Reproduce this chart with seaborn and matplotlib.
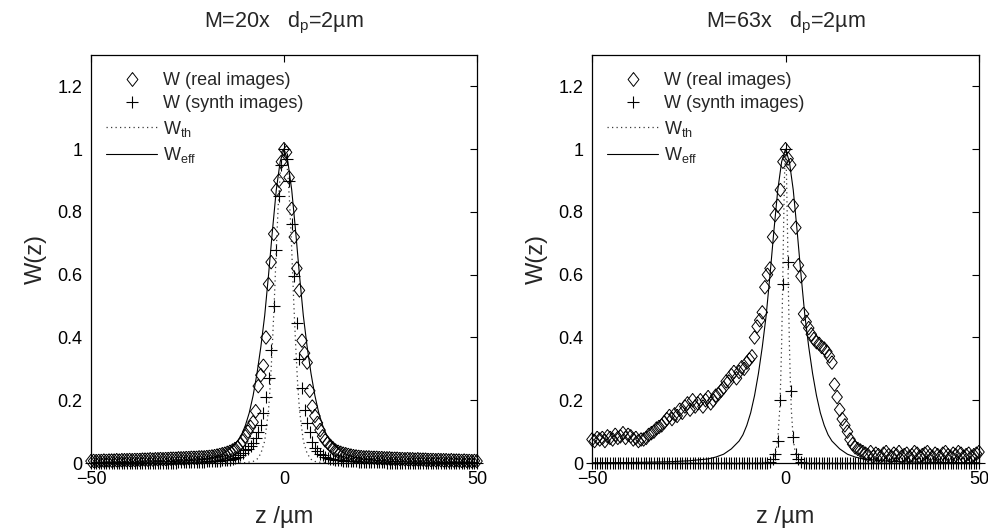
import numpy as np
import pandas as pd
import matplotlib
matplotlib.use("Agg")
import matplotlib.pyplot as plt
import seaborn as sns
from matplotlib.lines import Line2D

# ---------------- data ----------------
# sampling positions of the measured profiles (z in µm)
z_grid = np.round(np.arange(-75, 76) * 2.0 / 3.0, 4)

# M = 20x : W (real images)
L_real = [
    0.006, 0.007, 0.006, 0.007, 0.007, 0.008, 0.007, 0.008, 0.008, 0.008,
    0.009, 0.008, 0.009, 0.009, 0.009, 0.010, 0.009, 0.010, 0.010, 0.010,
    0.011, 0.011, 0.011, 0.012, 0.011, 0.012, 0.012, 0.013, 0.012, 0.013,
    0.013, 0.014, 0.014, 0.014, 0.015, 0.015, 0.015, 0.016, 0.016, 0.017,
    0.017, 0.017, 0.018, 0.018, 0.018,
    0.019, 0.020, 0.021, 0.022, 0.024, 0.026, 0.028, 0.030, 0.033, 0.036,
    0.040, 0.045, 0.050, 0.060, 0.070, 0.085, 0.100, 0.115, 0.130, 0.165,
    0.245, 0.280, 0.310, 0.400, 0.570, 0.640, 0.730, 0.870, 0.900, 0.960,
    1.000,
    0.990, 0.910, 0.810, 0.720, 0.620, 0.550, 0.390, 0.350, 0.320, 0.230,
    0.180, 0.150, 0.128, 0.105, 0.085, 0.072, 0.064, 0.055, 0.047, 0.040,
    0.036, 0.033, 0.030, 0.028, 0.026, 0.024, 0.022, 0.021, 0.020, 0.019,
    0.018, 0.018, 0.018, 0.017, 0.017, 0.017, 0.016, 0.016, 0.015, 0.015,
    0.015, 0.014, 0.014, 0.014, 0.013, 0.013, 0.012, 0.013, 0.012, 0.012,
    0.011, 0.012, 0.011, 0.011, 0.011, 0.010, 0.010, 0.010, 0.009, 0.010,
    0.009, 0.009, 0.009, 0.008, 0.009, 0.008, 0.008, 0.008, 0.007, 0.008,
    0.007, 0.007, 0.006, 0.007, 0.006,
]

# M = 20x : W (synth images)
L_synth = [
    0.0, 0.0, 0.0, 0.0, 0.0, 0.0, 0.0, 0.0, 0.0, 0.0,
    0.0, 0.0, 0.0, 0.0, 0.0, 0.0, 0.0, 0.0, 0.0, 0.0,
    0.0, 0.0, 0.0, 0.0, 0.0, 0.0, 0.0, 0.0, 0.0, 0.0,
    0.001, 0.001, 0.001, 0.001, 0.002, 0.002, 0.002, 0.002, 0.003, 0.003,
    0.003, 0.003, 0.004, 0.004, 0.004, 0.005, 0.005, 0.005, 0.006, 0.006,
    0.007, 0.008, 0.009, 0.010, 0.011, 0.013, 0.016, 0.020, 0.025, 0.032,
    0.040, 0.045, 0.055, 0.065, 0.080, 0.100, 0.120, 0.160, 0.210, 0.270,
    0.360, 0.500, 0.680, 0.850, 0.950,
    1.000,
    0.970, 0.900, 0.760, 0.595, 0.446, 0.330, 0.240, 0.170, 0.127, 0.100,
    0.068, 0.047, 0.038, 0.030, 0.025, 0.020, 0.017, 0.014, 0.012, 0.010,
    0.009, 0.008, 0.007, 0.006, 0.006,
    0.005, 0.005, 0.005, 0.004, 0.004, 0.004, 0.003, 0.003, 0.003, 0.003,
    0.002, 0.002, 0.002, 0.002, 0.001, 0.001, 0.001, 0.001, 0.001, 0.001,
    0.0, 0.0, 0.0, 0.0, 0.0, 0.0, 0.0, 0.0, 0.0, 0.0,
    0.0, 0.0, 0.0, 0.0, 0.0, 0.0, 0.0, 0.0, 0.0, 0.0,
    0.0, 0.0, 0.0, 0.0, 0.0, 0.0, 0.0, 0.0, 0.0, 0.0,
]

# M = 20x : theoretical and effective curves
L_th_z = [-50, -20, -10, -8, -7, -6, -5, -4, -3.5, -3, -2.5, -2, -1.5, -1, -0.5, 0,
          0.5, 1, 1.5, 2, 2.5, 3, 3.5, 4, 5, 6, 7, 8, 10, 20, 50]
L_th_w = [0.0, 0.0, 0.001, 0.005, 0.012, 0.03, 0.07, 0.17, 0.26, 0.38, 0.52, 0.68, 0.82, 0.92, 0.98, 1.0,
          0.98, 0.92, 0.82, 0.68, 0.52, 0.38, 0.26, 0.17, 0.07, 0.03, 0.012, 0.005, 0.001, 0.0, 0.0]
L_eff_z = [-50, -40, -30, -25, -20, -18, -16, -14, -12, -11, -10, -9, -8, -7, -6, -5, -4, -3, -2, -1, 0,
           1, 2, 3, 4, 5, 6, 7, 8, 9, 10, 11, 12, 14, 16, 18, 20, 25, 30, 40, 50]
L_eff_w = [0.001, 0.002, 0.004, 0.007, 0.013, 0.019, 0.028, 0.045, 0.07, 0.09, 0.12, 0.16, 0.215, 0.285,
           0.37, 0.47, 0.60, 0.74, 0.87, 0.96, 1.0,
           0.96, 0.87, 0.74, 0.60, 0.47, 0.37, 0.285, 0.215, 0.16, 0.12, 0.09, 0.07, 0.045, 0.028,
           0.019, 0.013, 0.007, 0.004, 0.002, 0.001]

# M = 63x : W (real images)
R_real = [
    0.075, 0.070, 0.080, 0.075, 0.080, 0.070, 0.085, 0.080, 0.075, 0.090,
    0.080, 0.085, 0.095, 0.080, 0.090, 0.085, 0.075, 0.080, 0.070, 0.075,
    0.075, 0.080, 0.090, 0.095, 0.100, 0.110, 0.115, 0.120, 0.130, 0.140,
    0.150, 0.140, 0.155, 0.150, 0.170, 0.160, 0.180, 0.190, 0.170, 0.200,
    0.180, 0.190, 0.200, 0.180, 0.200, 0.210, 0.190, 0.200, 0.215, 0.220,
    0.230, 0.240, 0.260, 0.260, 0.280, 0.290, 0.270, 0.290, 0.305, 0.300,
    0.320, 0.330, 0.340, 0.400, 0.435, 0.455, 0.480, 0.560, 0.600, 0.620,
    0.720, 0.790, 0.820, 0.870, 0.960,
    1.000,
    0.970, 0.950, 0.820, 0.750, 0.630, 0.595, 0.475, 0.450, 0.430, 0.410,
    0.395, 0.385, 0.380, 0.370, 0.365, 0.355, 0.340, 0.320, 0.250, 0.210,
    0.170, 0.140, 0.120, 0.100, 0.075, 0.060, 0.050, 0.045, 0.040, 0.035,
    0.030, 0.025, 0.035, 0.020, 0.030, 0.025, 0.020, 0.030, 0.035, 0.025,
    0.020, 0.030, 0.025, 0.035, 0.020, 0.025, 0.030, 0.020, 0.025, 0.035,
    0.030, 0.020, 0.025, 0.030, 0.035, 0.025, 0.020, 0.030, 0.025, 0.020,
    0.030, 0.035, 0.025, 0.020, 0.030, 0.025, 0.035, 0.030, 0.020, 0.025,
    0.030, 0.020, 0.025, 0.030, 0.035,
]

# M = 63x : W (synth images)
R_synth = [
    0.0, 0.0, 0.0, 0.0, 0.0, 0.0, 0.0, 0.0, 0.0, 0.0,
    0.0, 0.0, 0.0, 0.0, 0.0, 0.0, 0.0, 0.0, 0.0, 0.0,
    0.0, 0.0, 0.0, 0.0, 0.0, 0.0, 0.0, 0.0, 0.0, 0.0,
    0.0, 0.0, 0.0, 0.0, 0.0, 0.0, 0.0, 0.0, 0.0, 0.0,
    0.0, 0.0, 0.0, 0.0, 0.0, 0.0, 0.0, 0.0, 0.0, 0.0,
    0.0, 0.0, 0.0, 0.0, 0.0, 0.0, 0.0, 0.0, 0.0, 0.0,
    0.0, 0.0, 0.0, 0.0, 0.0, 0.0, 0.0, 0.0, 0.0,
    0.004, 0.012, 0.030, 0.070, 0.200, 0.570,
    1.000,
    0.640, 0.230, 0.083, 0.030, 0.012, 0.004,
    0.0, 0.0, 0.0, 0.0, 0.0, 0.0, 0.0, 0.0, 0.0,
    0.0, 0.0, 0.0, 0.0, 0.0, 0.0, 0.0, 0.0, 0.0, 0.0,
    0.0, 0.0, 0.0, 0.0, 0.0, 0.0, 0.0, 0.0, 0.0, 0.0,
    0.0, 0.0, 0.0, 0.0, 0.0, 0.0, 0.0, 0.0, 0.0, 0.0,
    0.0, 0.0, 0.0, 0.0, 0.0, 0.0, 0.0, 0.0, 0.0, 0.0,
    0.0, 0.0, 0.0, 0.0, 0.0, 0.0, 0.0, 0.0, 0.0, 0.0,
    0.0, 0.0, 0.0, 0.0, 0.0, 0.0, 0.0, 0.0, 0.0, 0.0,
]

# M = 63x : theoretical and effective curves
R_th_z = [-50, -10, -5, -4, -3, -2.5, -2, -1.5, -1.25, -1, -0.75, -0.5, -0.25, 0,
          0.25, 0.5, 0.75, 1, 1.25, 1.5, 2, 2.5, 3, 4, 5, 10, 50]
R_th_w = [0.0, 0.0, 0.002, 0.006, 0.018, 0.035, 0.075, 0.17, 0.26, 0.38, 0.55, 0.75, 0.92, 1.0,
          0.92, 0.75, 0.55, 0.38, 0.26, 0.17, 0.075, 0.035, 0.018, 0.006, 0.002, 0.0, 0.0]
R_eff_z = [-50, -40, -30, -25, -20, -18, -16, -14, -12, -11, -10, -9, -8, -7, -6, -5, -4, -3, -2, -1, 0,
           1, 2, 3, 4, 5, 6, 7, 8, 9, 10, 11, 12, 14, 16, 18, 20, 25, 30, 40, 50]
R_eff_w = [0.0007, 0.0015, 0.004, 0.007, 0.013, 0.019, 0.028, 0.045, 0.07, 0.09, 0.12, 0.16, 0.215, 0.285,
           0.37, 0.47, 0.60, 0.74, 0.87, 0.96, 1.0,
           0.96, 0.87, 0.74, 0.60, 0.47, 0.37, 0.285, 0.215, 0.16, 0.12, 0.09, 0.07, 0.045, 0.028,
           0.019, 0.013, 0.007, 0.004, 0.0015, 0.0007]

titles = ["M=20x   d$_\\mathregular{p}$=2µm", "M=63x   d$_\\mathregular{p}$=2µm"]
legend_labels = ["W (real images)", "W (synth images)",
                 "W$_\\mathregular{th}$", "W$_\\mathregular{eff}$"]
y_ticks = [0, 0.2, 0.4, 0.6, 0.8, 1.0, 1.2]
y_ticklabels = ["0", "0.2", "0.4", "0.6", "0.8", "1", "1.2"]
x_ticks = [-50, 0, 50]

# ---------------- style ----------------
sns.set_theme(style="white")
plt.rcParams['font.family'] = ['Liberation Sans', 'DejaVu Sans']
plt.rcParams['mathtext.default'] = 'regular'
plt.rcParams['axes.edgecolor'] = 'black'
plt.rcParams['axes.linewidth'] = 0.9

diamond = [(0, 1), (0.78, 0), (0, -1), (-0.78, 0), (0, 1)]
TH_STYLE = (0, (1, 2.6))

fig = plt.figure(figsize=(9.88, 5.28), dpi=100)
ax_pos = [[0.0921, 0.1231, 0.3907, 0.7727], [0.5992, 0.1231, 0.3917, 0.7727]]

panels = [
    (L_real, L_synth, L_th_z, L_th_w, L_eff_z, L_eff_w),
    (R_real, R_synth, R_th_z, R_th_w, R_eff_z, R_eff_w),
]

for i, (real, synth, thz, thw, effz, effw) in enumerate(panels):
    ax = fig.add_axes(ax_pos[i])
    df = pd.DataFrame({"z": z_grid, "real": real, "synth": synth})

    sns.scatterplot(data=df, x="z", y="real", marker=diamond, s=95, ax=ax,
                    linewidth=0.7, clip_on=False, zorder=3, legend=False)
    coll = ax.collections[-1]
    coll.set_facecolor('none')
    coll.set_edgecolor('black')

    sns.scatterplot(data=df, x="z", y="synth", marker='+', s=85, color='black', ax=ax,
                    linewidth=0.8, clip_on=False, zorder=3, legend=False)

    sns.lineplot(x=thz, y=thw, ax=ax, color='#3a3a3a', linewidth=0.9,
                 linestyle=TH_STYLE, sort=False, estimator=None, zorder=4)
    sns.lineplot(x=effz, y=effw, ax=ax, color='black', linewidth=0.8,
                 sort=False, estimator=None, zorder=4)

    ax.set_xlim(-50, 50)
    ax.set_ylim(0, 1.3)
    ax.set_xticks(x_ticks)
    ax.set_yticks(y_ticks)
    ax.set_yticklabels(y_ticklabels)
    ax.tick_params(direction='in', top=True, right=True, length=5, width=0.8,
                   labelsize=13, pad=6, colors='black')
    ax.set_xlabel("z /µm", fontsize=17, labelpad=13)
    ax.set_ylabel("W(z)", fontsize=17, labelpad=8)
    ax.set_title(titles[i], fontsize=15.5, pad=20)
    for sp in ax.spines.values():
        sp.set_visible(True)
        sp.set_color('black')

    handles = [
        Line2D([], [], marker=diamond, ls='none', mfc='none', mec='black', ms=10, mew=0.7),
        Line2D([], [], marker='+', ls='none', color='black', ms=9, mew=0.8),
        Line2D([], [], ls=TH_STYLE, color='#3a3a3a', lw=0.9),
        Line2D([], [], ls='-', color='black', lw=0.8),
    ]
    ax.legend(handles, legend_labels, loc='upper left', bbox_to_anchor=(0.04, 0.958),
              frameon=False, fontsize=13, handlelength=2.8, handletextpad=0.35,
              labelspacing=0.35, borderaxespad=0, borderpad=0)

fig.savefig("out.png", dpi=100)
